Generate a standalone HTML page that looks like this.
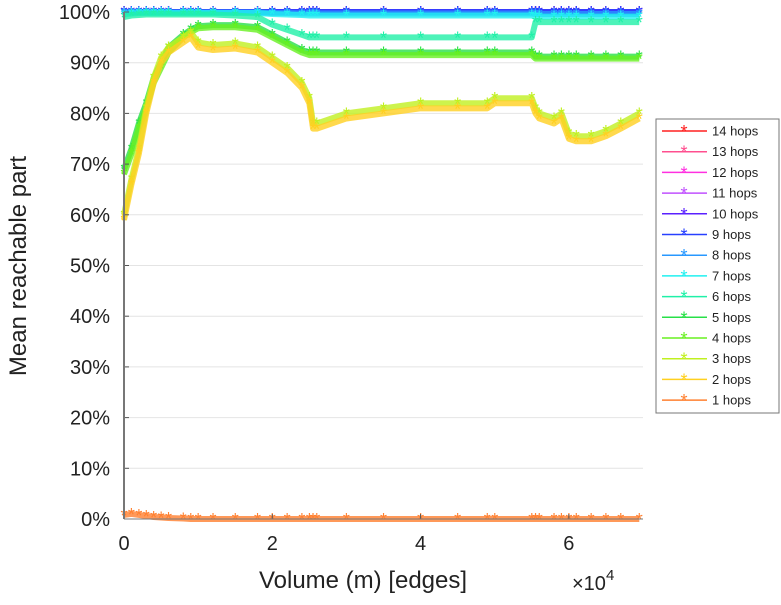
<!DOCTYPE html>
<html><head><meta charset="utf-8"><style>
body{margin:0;background:#fff;}
svg text{font-family:"Liberation Sans",sans-serif;fill:#222;}
</style></head><body>
<svg id="chart" width="781" height="600" xmlns="http://www.w3.org/2000/svg">
<g id="grid"></g>
<g id="series"></g>
<g id="axes"></g>
<text x="0" y="0" transform="translate(26,266) rotate(-90)" text-anchor="middle" font-size="24">Mean reachable part</text>
<text x="363" y="588" text-anchor="middle" font-size="24">Volume (m) [edges]</text>
<text x="572" y="590" font-size="20">×10<tspan dy="-10" font-size="15">4</tspan></text>
<g id="legend"></g>
</svg>
<script>
const xs=[0,0.1,0.2,0.3,0.4,0.5,0.6,0.8,0.9,1.0,1.2,1.5,1.8,2.0,2.2,2.4,2.5,2.55,2.6,3.0,3.5,4.0,4.5,4.9,5.0,5.5,5.55,5.6,5.8,5.9,6.0,6.1,6.3,6.5,6.7,6.95];
const hop1=[0.8,1,0.8,0.6,0.4,0.3,0.2,0.1,0,0,0,0,0,0,0,0,0,0,0,0,0,0,0,0,0,0,0,0,0,0,0,0,0,0,0,0];
const hop2=[59,66,72,80,86,90,92,94,95,93,92.5,92.8,92,90,88,85,82,77,77,79,80,81,81,81,82,82,80,79,78,79,75,74.5,74.5,75.5,77,79];
const hop3=[60,67,73,81,87,91,93,95,96,94,93.5,93.8,93,91,89,86,83,78,78,80,81,82,82,82,83,83,81,80,79,80,76,75.5,75.5,76.5,78,80];
const hop4=[68,72,77,81,86,89,92,95,96,96.8,97,97,96.5,95,93.5,92,91.5,91.5,91.5,91.5,91.5,91.5,91.5,91.5,91.5,91.5,90.8,90.8,90.8,90.8,90.8,90.8,90.8,90.8,90.8,90.8];
const hop5=[69,73,78,82,87,90,93,95.5,96.5,97.2,97.4,97.4,97,95.5,94,92.5,92,92,92,92,92,92,92,92,92,92,91.2,91.2,91.2,91.2,91.2,91.2,91.2,91.2,91.2,91.2];
const hop6=[99,99.3,99.4,99.5,99.5,99.5,99.5,99.5,99.5,99.5,99.5,99.3,99,97.5,96.5,95.5,95,95,95,95,95,95,95,95,95,95,98,98,98,98,98,98,98,98,98,98];
const hop7=[99.5,99.7,99.8,99.8,99.8,99.8,99.8,99.8,99.8,99.8,99.8,99.8,99.8,99.6,99.5,99.4,99.3,99.3,99.3,99.3,99.3,99.3,99.3,99.3,99.3,99.3,99.1,99.1,99.1,99.1,99.1,99.1,99.1,99.1,99.1,99.1];
const hopTop=[100,100,100,100,100,100,100,100,100,100,100,100,100,100,100,100,100,100,100,100,100,100,100,100,100,100,100,100,100,100,100,100,100,100,100,100];
const hop8=[99.8,99.9,99.9,99.9,99.9,99.9,99.9,99.9,99.9,99.9,99.9,99.9,99.9,99.8,99.8,99.7,99.7,99.7,99.7,99.7,99.7,99.7,99.7,99.7,99.7,99.7,99.6,99.6,99.6,99.6,99.6,99.6,99.6,99.6,99.6,99.6];
const labels=["14 hops","13 hops","12 hops","11 hops","10 hops","9 hops","8 hops","7 hops","6 hops","5 hops","4 hops","3 hops","2 hops","1 hops"];
const colors=["#ff2020","#ff4f8f","#ff30e0","#c050ff","#5a20ff","#2840ff","#2898ff","#20f0f0","#20f0a8","#28e048","#68f020","#c0f020","#ffd020","#ff8030"];
const seriesVals=[hopTop,hopTop,hopTop,hopTop,hopTop,hopTop,hop8,hop7,hop6,hop5,hop4,hop3,hop2,hop1];
const yTicks=[0,10,20,30,40,50,60,70,80,90,100];
const xTicks=[0,2,4,6];
const NS="http://www.w3.org/2000/svg";
const X0=124,X1=643,XMAX=7.0,Y0=519,Y1=12;
function sx(v){return X0+(X1-X0)*v/XMAX;}
function sy(v){return Y0-(Y0-Y1)*v/100;}
function mk(t,a,p){const e=document.createElementNS(NS,t);for(const k in a)e.setAttribute(k,a[k]);p.appendChild(e);return e;}
const grid=document.getElementById('grid'),axes=document.getElementById('axes'),ser=document.getElementById('series'),leg=document.getElementById('legend');
yTicks.forEach(v=>{
 const l=mk('line',{x1:X0,x2:X1,y1:sy(v),y2:sy(v),stroke:'#e4e4e4','stroke-width':1},grid);
 
 
 const t=mk('text',{x:110,y:sy(v)+7,'text-anchor':'end','font-size':20},axes);
 t.textContent=v+'%';
 
 
 mk('line',{x1:X0,x2:X0+5,y1:sy(v),y2:sy(v),stroke:'#555'},axes);
});
xTicks.forEach(v=>{
 const t=mk('text',{x:sx(v),y:550,'text-anchor':'middle','font-size':20},axes);
 t.textContent=v;
 
 
 mk('line',{x1:sx(v),x2:sx(v),y1:Y0,y2:Y0-5,stroke:'#555'},axes);
});
const ya=mk('line',{x1:X0,x2:X0,y1:Y1,y2:Y0,stroke:'#777','stroke-width':2},axes);


const xa=mk('line',{x1:X0,x2:X1,y1:Y0,y2:Y0,stroke:'#777','stroke-width':1},axes);


for(let i=0;i<seriesVals.length;i++){
 const vals=seriesVals[i];
 const g=mk('g',{},ser);
 
 
 const pts=xs.map((x,j)=>sx(x)+','+sy(vals[j])).join(' ');
 mk('polyline',{points:pts,fill:'none',stroke:colors[i],'stroke-width':6,'stroke-linejoin':'round','stroke-opacity':0.8},g);
 xs.forEach((x,j)=>{
  const m=mk('text',{x:sx(x),y:sy(vals[j])+7,'text-anchor':'middle','font-size':18,style:'fill:'+colors[i]},g);
  m.textContent='*';
  
  
 });
}
const box=mk('rect',{x:656,y:119,width:123,height:294,fill:'#fff',stroke:'#777','stroke-width':1},leg);


labels.forEach((lab,i)=>{
 const y=131+i*20.7;
 const g=mk('g',{},leg);
 
 
 mk('line',{x1:662,x2:707,y1:y,y2:y,stroke:colors[i],'stroke-width':1.5},g);
 const m=mk('text',{x:684,y:y+7,'text-anchor':'middle','font-size':18,style:'fill:'+colors[i]},g);
 m.textContent='*';
 const t=mk('text',{x:712,y:y+4.5,'font-size':13},g);
 t.textContent=lab;
});
</script>
</body></html>
